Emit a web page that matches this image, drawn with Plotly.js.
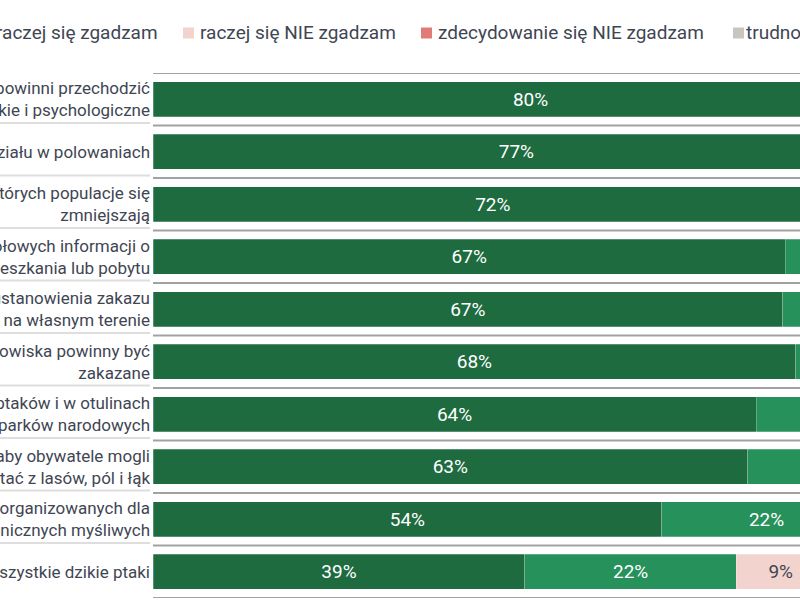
<!DOCTYPE html>
<html>
<head>
<meta charset="utf-8">
<script src="https://cdn.plot.ly/plotly-3.0.1.min.js"></script>
<style>html,body{margin:0;padding:0;background:#fff;overflow:hidden}#chart{width:800px;height:600px}</style>
</head>
<body>
<div id="chart"></div>
<script>
// ---- data ----
var statements = [
  "Myśliwi powinni przechodzić<br>okresowe badania lekarskie i psychologiczne",
  "Dzieci nie powinny brać udziału w polowaniach",
  "Nie powinno się polować na gatunki, których populacje się<br>zmniejszają",
  "Myśliwi powinni mieć obowiązek podawania szczegółowych informacji o<br>polowaniach w pobliżu miejsc zamieszkania lub pobytu",
  "Właściciele gruntów powinni mieć prawo ustanowienia zakazu<br>polowań na własnym terenie",
  "Polowania na zwierzęta wypuszczane na łowiska powinny być<br>zakazane",
  "Polowania powinny być zakazane w ostojach ptaków i w otulinach<br>parków narodowych",
  "Polowania powinny być ograniczone tak, aby obywatele mogli<br>bezpiecznie korzystać z lasów, pól i łąk",
  "Powinien obowiązywać zakaz polowań organizowanych dla<br>zagranicznych myśliwych",
  "Należy objąć ochroną wszystkie dzikie ptaki"
];
var seriesNames = ["zdecydowanie się zgadzam", "raczej się zgadzam", "raczej się NIE zgadzam", "zdecydowanie się NIE zgadzam", "trudno powiedzieć"];
var stronglyAgree    = [80, 77, 72, 67.0, 66.7, 68.1, 63.9, 63.0, 53.9, 39.4];
var ratherAgree      = [12, 13, 17, 20, 19, 16, 21, 22, 22.2, 22.4];
var ratherDisagree   = [3, 4, 4, 6, 6, 7, 6, 7, 11, 9.4];
var stronglyDisagree = [2, 3, 2, 3, 4, 4, 3, 3, 6, 6];
var hardToSay        = [3, 3, 5, 4, 4, 5, 6, 5, 7, 23];

// ---- styles ----
var colors = ["#1e6b40", "#26915a", "#f2d3cd", "#e07b76", "#c8c4be"];
var textColors = ["#ffffff", "#ffffff", "#3f4653", "#ffffff", "#3f4653"];
var labelColor = "#3f4653";
var W = 800, H = 600, ML = 153, MT = 73, MB = 2;
var pxPerPct = 9.44;
var plotW = W - ML, plotH = H - MT - MB;

var seriesValues = [stronglyAgree, ratherAgree, ratherDisagree, stronglyDisagree, hardToSay];
var traces = seriesValues.map(function (vals, k) {
  return {
    type: "bar", orientation: "h",
    name: seriesNames[k], x: vals, y: statements,
    marker: {color: colors[k], line: {color: "rgba(255,255,255,0.5)", width: 0.5}},
    texttemplate: "%{x:.0f}%", textposition: "inside", insidetextanchor: "middle",
    textangle: 0, constraintext: "none",
    insidetextfont: {family: "Roboto", size: 19, color: textColors[k]},
    hoverinfo: "skip", showlegend: false
  };
});

function pxX(p) { return (p - ML) / plotW; }
function pxY(p) { return (H - MB - p) / plotH; }

var shapes = [];
// row separators in plot area
for (var i = 0; i <= statements.length; i++) {
  shapes.push({type: "line", xref: "paper", x0: 0, x1: 1, yref: "y", y0: i - 0.5, y1: i - 0.5,
    line: {color: "#a2a2a2", width: 2}});
}
// light separators under labels
for (var j = 1; j < statements.length; j++) {
  shapes.push({type: "line", xref: "paper", x0: pxX(-10), x1: pxX(150),
    yref: "y", ysizemode: "pixel", yanchor: j - 0.5, y0: 2.5, y1: 2.5,
    line: {color: "#dedede", width: 2}});
}

// manual legend
var legendMarkerLeft = [-300, -40, 183, 421, 733];
var legendTextAnchor = ["right", "right", "left", "left", "left"];
var legendTextX = [-60, 158, 200, 438, 746];
var annotations = [];
seriesNames.forEach(function (nm, k) {
  shapes.push({type: "rect", xref: "paper", yref: "paper",
    x0: pxX(legendMarkerLeft[k]), x1: pxX(legendMarkerLeft[k] + 11),
    y0: pxY(38.5), y1: pxY(27.5), fillcolor: colors[k], line: {width: 0}});
  annotations.push({xref: "paper", yref: "paper", x: pxX(legendTextX[k] + (legendTextAnchor[k] === "left" ? -2 : 2)),
    y: pxY(32.5), xanchor: legendTextAnchor[k], yanchor: "middle", showarrow: false,
    text: nm, font: {family: "Roboto", size: 19, color: labelColor}});
});

var layout = {
  width: W, height: H,
  margin: {l: ML, r: 0, t: MT, b: MB, pad: 0},
  paper_bgcolor: "#fff", plot_bgcolor: "#fff",
  barmode: "stack", bargap: 0.34,
  xaxis: {range: [0, plotW / pxPerPct], showgrid: false, zeroline: false, showticklabels: false, ticks: "", fixedrange: true},
  yaxis: {type: "category", range: [statements.length - 0.5, -0.5], showgrid: false, zeroline: false, ticks: "",
    ticklabelstandoff: 2,
    tickfont: {family: "Roboto", size: 17, color: labelColor}, automargin: false},
  shapes: shapes, annotations: annotations,
  showlegend: false
};

Plotly.newPlot("chart", traces, layout, {displayModeBar: false, staticPlot: true});
</script>
</body>
</html>
